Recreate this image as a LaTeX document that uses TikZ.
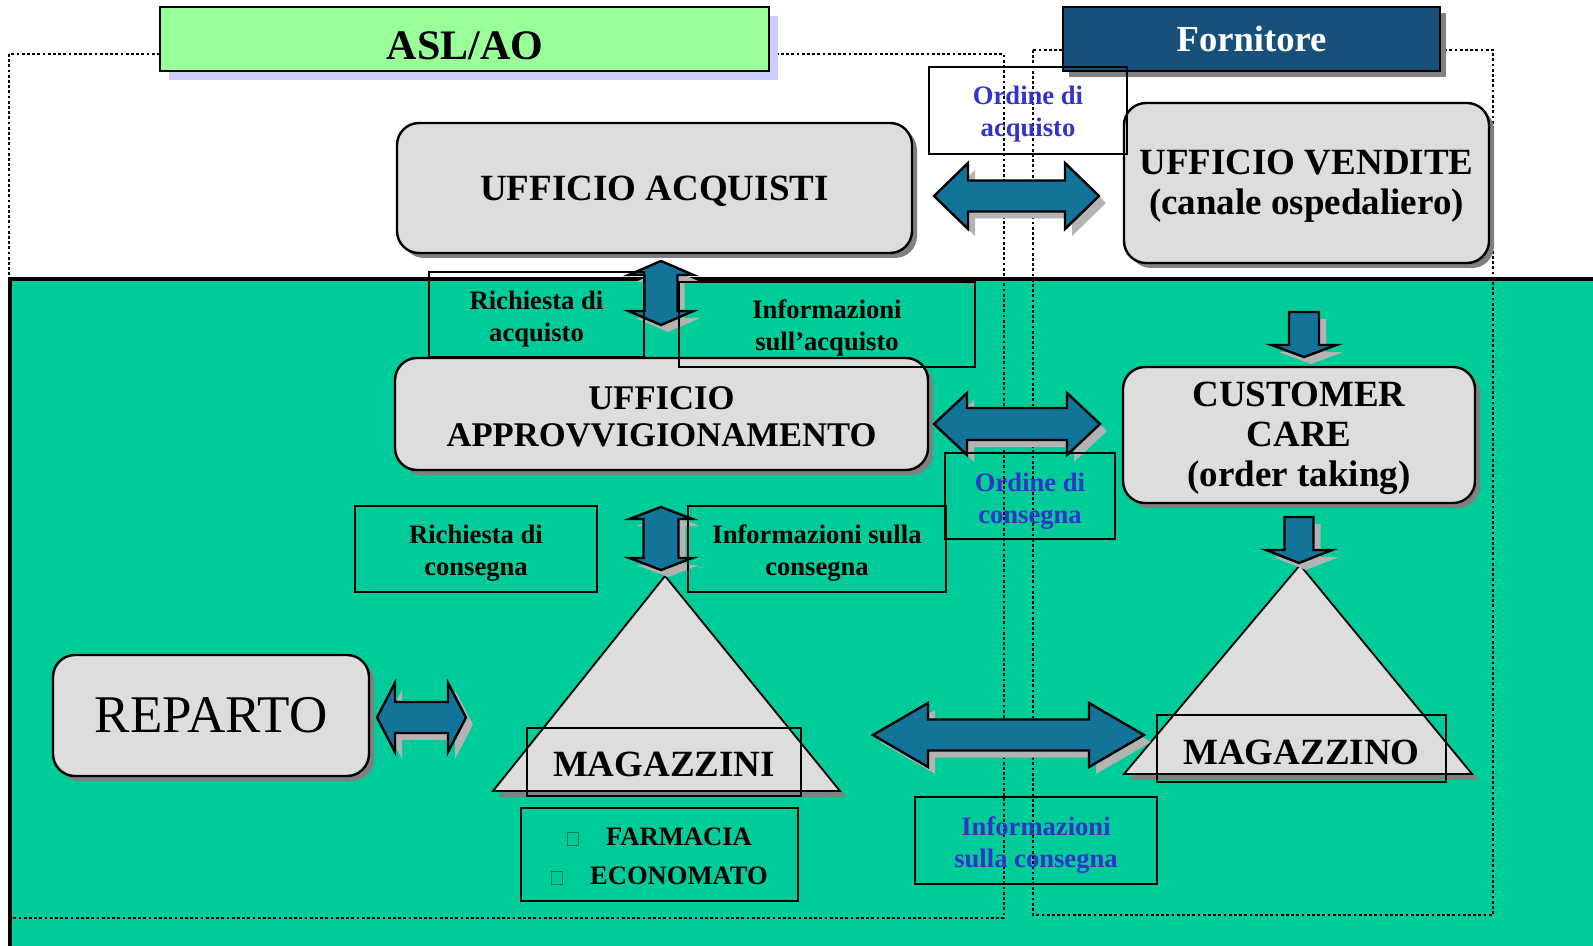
\documentclass[tikz,border=0pt]{standalone}
\usepackage{fontspec}
\setmainfont{Liberation Serif}
\usetikzlibrary{shadows}
\definecolor{greenbg}{HTML}{00CC99}
\definecolor{aslfill}{HTML}{99FF99}
\definecolor{aslshadow}{HTML}{CCCCFF}
\definecolor{fornfill}{HTML}{17507A}
\definecolor{boxgray}{HTML}{DDDDDD}
\definecolor{darkshadow}{HTML}{808080}
\definecolor{arrowfill}{HTML}{127499}
\definecolor{arrowshadow}{HTML}{B3B3B3}
\definecolor{bluetext}{HTML}{3333CC}
\definecolor{bulletcol}{HTML}{007755}
% horizontal double block arrow: xL, xR, yc, shaft half, head half, head length
\newcommand\hdblarrow[6]{%
  \draw[blockarrow] (#1,#3) -- ({#1+#6},{#3-#5}) -- ({#1+#6},{#3-#4}) -- ({#2-#6},{#3-#4}) -- ({#2-#6},{#3-#5}) -- (#2,#3)
    -- ({#2-#6},{#3+#5}) -- ({#2-#6},{#3+#4}) -- ({#1+#6},{#3+#4}) -- ({#1+#6},{#3+#5}) -- cycle;}
% vertical double block arrow: xc, yT, yB, shaft half, head half, head length
\newcommand\vdblarrow[6]{%
  \draw[blockarrow] (#1,#2) -- ({#1+#5},{#2+#6}) -- ({#1+#4},{#2+#6}) -- ({#1+#4},{#3-#6}) -- ({#1+#5},{#3-#6}) -- (#1,#3)
    -- ({#1-#5},{#3-#6}) -- ({#1-#4},{#3-#6}) -- ({#1-#4},{#2+#6}) -- ({#1-#5},{#2+#6}) -- cycle;}
% down block arrow: xc, yTop, yTip, shaft half, head half, head length
\newcommand\dnblockarrow[6]{%
  \draw[blockarrow] ({#1-#4},#2) -- ({#1+#4},#2) -- ({#1+#4},{#3-#6}) -- ({#1+#5},{#3-#6}) -- (#1,#3)
    -- ({#1-#5},{#3-#6}) -- ({#1-#4},{#3-#6}) -- cycle;}
\newcommand\tofubox{{\color{bulletcol}\setlength\fboxsep{0pt}\setlength\fboxrule{0.5pt}\fbox{\rule{0pt}{6pt}\hspace{5pt}}}}
\begin{document}
\begin{tikzpicture}[x=0.5pt,y=-0.5pt,
  corners/.style n args={4}{at={({(#1+#3)/2},{(#2+#4)/2})},
    minimum width={(#3-#1)*0.5pt}, minimum height={(#4-#2)*0.5pt}},
  roundbox/.style={draw, line width=1.2pt, fill=boxgray, rounded corners=11pt, inner sep=0pt,
    drop shadow={fill=darkshadow, opacity=1, shadow xshift=2.5pt, shadow yshift=-2.5pt}},
  frameonly/.style={draw, line width=1.2pt, inner sep=0pt},
  bigtext/.style={align=center, inner sep=0pt, font=\bfseries\fontsize{18.5}{20}\selectfont},
  smalltext/.style={align=center, inner sep=0pt, font=\bfseries\fontsize{13.3}{16}\selectfont},
  bluetext/.style={smalltext, text=bluetext},
  blockarrow/.style={draw, line width=1.2pt, line join=miter, fill=arrowfill,
    drop shadow={fill=arrowshadow, opacity=1, shadow xshift=3.5pt, shadow yshift=-3.5pt}},
  pyramid/.style={draw, line width=0.9pt, fill=boxgray,
    drop shadow={fill=darkshadow, opacity=1, shadow xshift=3pt, shadow yshift=-3pt}},
  dotframe/.style={line width=1.4pt, dash pattern=on 1.4pt off 1.2pt}
]
\useasboundingbox (0,0) rectangle (1593,946);
\fill[white] (0,0) rectangle (1593,946);
% green area
\fill[greenbg] (10,279) rectangle (1593,946);
\draw[line width=1.6pt] (10,946) -- (10,279) -- (1593,279);
% dotted frames
\draw[dotframe] (9,54) rectangle (1004,918);
\draw[dotframe] (1033,50) rectangle (1493,915);
% titles
\node[draw, line width=1.4pt, fill=aslfill, inner sep=0pt,
  drop shadow={fill=aslshadow, opacity=1, shadow xshift=4.5pt, shadow yshift=-4.5pt},
  corners={160}{7}{769}{71}] (asl) {};
\node[font=\bfseries\fontsize{21}{24}\selectfont, anchor=base] (asltext) at (465,60) {ASL/AO};
\node[draw, line width=1.4pt, fill=fornfill, inner sep=0pt, text=white,
  font=\bfseries\fontsize{18.3}{20}\selectfont,
  drop shadow={fill=darkshadow, opacity=1, shadow xshift=3pt, shadow yshift=-3pt},
  corners={1063}{7}{1440}{71}] (forn) {Fornitore};
% rounded boxes
\node[roundbox, corners={397}{123}{912}{253}] (acq) {};
\node[bigtext] (acqtext) at ([yshift=-1.7pt]acq.center) {UFFICIO ACQUISTI};
\node[roundbox, corners={1124}{103}{1489}{263}] (vend) {};
\node[bigtext] (vendtext) at ([yshift=-1.8pt]vend.center) {UFFICIO VENDITE\\(canale ospedaliero)};
\node[roundbox, corners={395}{358}{928}{470}] (appr) {};
\node[bigtext, font=\bfseries\fontsize{17.3}{18.6}\selectfont] (apprtext) at ([yshift=-1.3pt]appr.center) {UFFICIO\\APPROVVIGIONAMENTO};
\node[roundbox, corners={1123}{367}{1475}{503}] (cc) {};
\node[bigtext] (cctext) at ([yshift=-1.9pt]cc.center) {CUSTOMER\\CARE\\(order taking)};
\node[roundbox, font=\fontsize{26.5}{30}\selectfont, corners={53}{655}{369}{776}] (rep) {REPARTO};
% pyramids (warehouses)
\coordinate (magLapex) at (665,576);
\coordinate (magRapex) at (1300,565);
\draw[pyramid] (magLapex) -- (493,791) -- (840,791) -- cycle;
\draw[pyramid] (magRapex) -- (1124,774) -- (1472,774) -- cycle;
\node[frameonly, corners={527}{728}{801}{796}] (magL) {};
\node[bigtext] (magLtext) at ([yshift=-1pt]magL.center) {MAGAZZINI};
\node[frameonly, corners={1157}{715}{1446}{782}] (magR) {};
\node[bigtext] (magRtext) at ([yshift=-2pt]magR.center) {MAGAZZINO};
% block arrows
\hdblarrow{934}{1099}{196}{15.5}{33}{34}
\hdblarrow{934}{1100}{424}{16}{31}{33}
\hdblarrow{873}{1144}{735}{15.5}{32}{55}
\hdblarrow{377}{466}{717.5}{15.5}{34.5}{18}
\vdblarrow{661}{261}{325}{16.5}{32.5}{14}
\vdblarrow{661}{507}{570}{17.5}{31.5}{12}
\dnblockarrow{1304}{312}{357}{15}{32.5}{12}
\dnblockarrow{1299}{517}{563}{14.5}{33}{13}
% text boxes
\node[frameonly, corners={429}{272}{644}{357}] (ricacq) {};
\node[smalltext] (ricacqtext) at ([yshift=-2.4pt]ricacq.center) {Richiesta di\\acquisto};
\node[frameonly, corners={679}{282}{975}{367}] (infacq) {};
\node[smalltext] (infacqtext) at ([yshift=-1.6pt]infacq.center) {Informazioni\\sull’acquisto};
\node[frameonly, corners={355}{506}{597}{592}] (riccons) {};
\node[smalltext] (ricconstext) at ([yshift=-2pt]riccons.center) {Richiesta di\\consegna};
\node[frameonly, corners={688}{506}{946}{592}] (infcons) {};
\node[smalltext] (infconstext) at ([yshift=-2pt]infcons.center) {Informazioni sulla\\consegna};
\node[frameonly, corners={929}{67}{1127}{154}] (ordacq) {};
\node[bluetext] (ordacqtext) at ([yshift=-1.8pt]ordacq.center) {Ordine di\\acquisto};
\node[frameonly, corners={945}{453}{1115}{539}] (ordcons) {};
\node[bluetext] (ordconstext) at ([yshift=-2.4pt]ordcons.center) {Ordine di\\consegna};
\node[frameonly, corners={915}{797}{1157}{884}] (infcons2) {};
\node[bluetext] (infcons2text) at ([yshift=-2.4pt]infcons2.center) {Informazioni\\sulla consegna};
\node[frameonly, corners={521}{808}{798}{901}] (list) {};
\node[smalltext, font=\bfseries\fontsize{13.3}{19.5}\selectfont] (listtext) at ([yshift=-1pt]list.center)
  {\tofubox\hspace{13.5pt}FARMACIA\\\tofubox\hspace{13.5pt}ECONOMATO};
\end{tikzpicture}
\end{document}
